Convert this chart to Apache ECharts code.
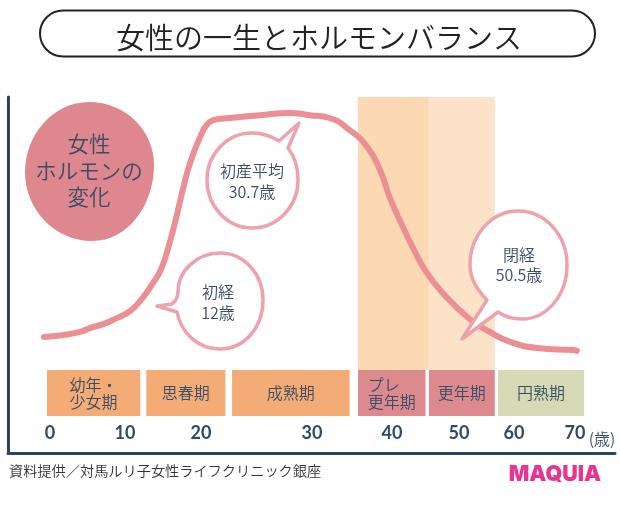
<!DOCTYPE html>
<html>
<head>
<meta charset="utf-8">
<title>女性の一生とホルモンバランス</title>
<style>
  html, body { margin: 0; padding: 0; background: #fff; }
  #hormone-map { width: 620px; height: 506px; }
</style>
<script src="https://cdn.jsdelivr.net/npm/echarts@6/dist/echarts.min.js"></script>
</head>
<body>
<div id="hormone-map"></div>
<script>
// 読み取った値
let tickAges = [0, 10, 20, 30, 40, 50, 60, 70];

let curveAges = [-0.8, 1.6, 4, 5.3, 7.1, 8.9, 10.7, 12.4, 13.6, 14.7, 15.6, 16.6, 17.6, 18.6, 19.9, 20.5, 21.1, 22.6, 25.3, 28, 29.8, 32.2, 34.7, 36.9, 38.5, 39.7, 41.5, 43.3, 45.2, 47.6, 51.5, 55.6, 59.3, 63.8, 69.7, 70.3];
let curveLevels = [32.6, 33.1, 34, 35.1, 36.2, 37.9, 39.9, 43.8, 47.5, 51.4, 57, 64.9, 73.9, 81.7, 88.8, 92.1, 93.5, 94.1, 94.9, 95.5, 94.9, 94.1, 90.7, 86, 79.5, 71.9, 64, 57, 50.6, 44.9, 38.2, 34, 31.2, 29.5, 28.9, 28.7];

let phaseNames = ['幼年・\n少女期', '思春期', '成熟期', 'プレ　\n更年期', '更年期', '円熟期'];
let phaseStart = [-0.4, 12.8, 22.8, 35.75, 45.5, 57.1];
let phaseEnd = [12, 22.2, 34.7, 45, 56.5, 71.5];

let bandStart = [35.75, 45.5];
let bandEnd = [45.5, 56.5];

// 目盛りの間隔は元の図でも等間隔ではない
let rulerStops = [50, 125, 201, 312, 392, 459, 514, 575];

function toRuler(age) {
    let i = Math.floor(age / 10);
    i = Math.max(0, Math.min(tickAges.length - 2, i));
    let t = (age - tickAges[i]) / 10;
    return rulerStops[i] + t * (rulerStops[i + 1] - rulerStops[i]);
}

let myChart = echarts.init(document.getElementById('hormone-map'));

let jpFont = '"Noto Sans CJK JP", "Noto Sans", sans-serif';
let inkColor = '#3a4d66';
let phaseColors = ['#f4ac76', '#f4ac76', '#f4ac76', '#dd8a8f', '#dd8a8f', '#d6dab4'];
let bandColors = ['#fcd9b3', '#fbe2c9'];

// 吹き出しと丸の輪郭
let calloutPaths = [
    'M89,102 C125,102 154,130 154,165 C154,205 128,241 92,241 C55,241 25,210 25,172 C25,135 53,102 89,102 Z',
    'M279,141 L299,123 L288,148 C295,157 298,168 298,180 C298,206 278,228 252,228 C227,228 207,206 207,180 C207,154 227,133 252,133 C262,133 271,136 279,141 Z',
    'M172,304 L157,306 L177,312 C181,333 198,349 220,349 C244,349 263,328 263,300 C263,274 244,253 220,253 C196,253 178,272 178,291 C178,296 176,301 172,304 Z',
    'M487,300 L462,339 L498,312 C505,317 512,319 522,319 C547,319 567,295 567,265 C567,236 546,211 518,211 C491,211 470,236 470,265 C470,280 478,291 487,300 Z'
];

function label(text, x, y, size, color, extra) {
    return {
        type: 'text',
        z: 11,
        x: x,
        y: y,
        style: Object.assign({
            text: text,
            fill: color || inkColor,
            fontSize: size,
            fontFamily: jpFont,
            fontWeight: 350,
            align: 'center',
            verticalAlign: 'middle'
        }, extra || {})
    };
}

let option = {
    animation: false,
    backgroundColor: '#fff',
    title: {
        text: '女性の一生とホルモンバランス',
        left: 314,
        top: 14,
        textAlign: 'center',
        textStyle: { fontFamily: jpFont, fontSize: 29, fontWeight: 350, color: '#222', lineHeight: 38 }
    },
    grid: { left: 8, right: 5, top: 97, bottom: 53 },
    xAxis: {
        type: 'value',
        min: 8,
        max: 615,
        splitLine: { show: false },
        axisTick: { show: false },
        axisLine: { lineStyle: { color: '#2b4560', width: 3 } },
        axisLabel: {
            inside: true,
            margin: 11,
            customValues: rulerStops,
            formatter: function (value) {
                return tickAges[rulerStops.indexOf(value)];
            },
            fontFamily: 'Lato, sans-serif',
            fontWeight: 'bold',
            fontSize: 18,
            color: '#2f4a68'
        }
    },
    yAxis: {
        type: 'value',
        min: 0,
        max: 100,
        splitLine: { show: false },
        axisTick: { show: false },
        axisLabel: { show: false },
        axisLine: { show: true, lineStyle: { color: '#2b4560', width: 3 } }
    },
    series: [
        {
            type: 'custom',
            z: 1,
            clip: false,
            data: bandStart.map(function (s, i) { return [toRuler(s), toRuler(bandEnd[i]), i]; }),
            renderItem: function (params, api) {
                let a = api.coord([api.value(0), 100]);
                let b = api.coord([api.value(1), 23.3]);
                return {
                    type: 'rect',
                    shape: { x: a[0], y: a[1], width: b[0] - a[0], height: b[1] - a[1] },
                    style: { fill: bandColors[api.value(2)] }
                };
            }
        },
        {
            type: 'line',
            z: 3,
            smooth: 0.5,
            showSymbol: false,
            clip: false,
            lineStyle: { color: '#ec8f95', width: 6, cap: 'round' },
            data: curveAges.map(function (a, i) { return [toRuler(a), curveLevels[i]]; })
        },
        {
            type: 'custom',
            z: 4,
            clip: false,
            data: phaseStart.map(function (s, i) { return [toRuler(s), toRuler(phaseEnd[i]), i]; }),
            renderItem: function (params, api) {
                let a = api.coord([api.value(0), 23.3]);
                let b = api.coord([api.value(1), 10.4]);
                let i = api.value(2);
                return {
                    type: 'rect',
                    shape: { x: a[0], y: a[1], width: b[0] - a[0], height: b[1] - a[1] },
                    style: { fill: phaseColors[i] },
                    textContent: {
                        style: {
                            text: phaseNames[i],
                            fill: inkColor,
                            fontFamily: jpFont,
                            fontWeight: 350,
                            fontSize: 16,
                            lineHeight: 17,
                            align: 'center'
                        }
                    },
                    textConfig: { position: 'inside' }
                };
            }
        },
        {
            type: 'custom',
            z: 10,
            coordinateSystem: 'none',
            silent: true,
            data: calloutPaths.map(function (d, i) { return [i]; }),
            renderItem: function (params, api) {
                let i = api.value(0);
                return {
                    type: 'path',
                    shape: { pathData: calloutPaths[i] },
                    style: i === 0
                        ? { fill: '#df878e' }
                        : { fill: '#fff', stroke: '#eea2ab', lineWidth: 3.5, lineJoin: 'round' }
                };
            }
        }
    ],
    graphic: [
        {
            type: 'rect',
            z: 10,
            shape: { x: 40, y: 10.5, width: 555, height: 46, r: 23 },
            style: { fill: 'none', stroke: '#222', lineWidth: 2 }
        },
        label('女性', 89, 144, 21.5),
        label('ホルモンの', 89, 171, 21.5),
        label('変化', 89, 197, 21.5),
        label('初産平均', 252, 171, 16),
        label('30.7歳', 252, 192, 16),
        label('初経', 218, 292, 16),
        label('12歳', 218, 313, 16),
        label('閉経', 519, 255, 16),
        label('50.5歳', 519, 275, 16),
        label('(歳)', 602, 439, 16),
        label('資料提供／対馬ルリ子女性ライフクリニック銀座', 9, 471, 14.2, '#333', { align: 'left' }),
        label('MAQUIA', 555, 475, 21.5, '#e8358f', { fontFamily: 'Inter, Lato, sans-serif', fontWeight: 900 })
    ]
};

myChart.setOption(option);
window.addEventListener("resize", function () {
    myChart.resize();
});
</script>
</body>
</html>
